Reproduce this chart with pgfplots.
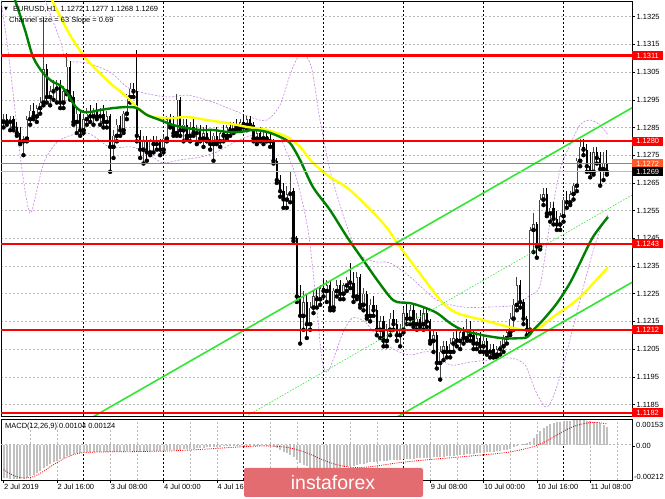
\documentclass[border=0pt]{standalone}
\usepackage{pgfplots}
\pgfplotsset{compat=1.18}
\usepackage{pgfplotstable}
\usepackage{fontspec}
\setmainfont{Liberation Sans}
\newfontfamily\dejavu{DejaVu Sans}
\definecolor{mtgreen}{RGB}{0,128,0}
\definecolor{mtyellow}{RGB}{255,255,0}
\definecolor{mtlime}{RGB}{50,230,50}
\definecolor{mtviolet}{RGB}{200,130,230}
\definecolor{mtred}{RGB}{255,0,0}
\definecolor{mtorange}{RGB}{255,90,40}
\definecolor{mtgrid}{RGB}{185,185,185}
\definecolor{mtsilver}{RGB}{192,192,192}
\definecolor{wmark}{RGB}{226,108,112}
\definecolor{bullgray}{RGB}{70,70,70}

\pgfplotstableread{
i o h l c
0 1.1287 1.1290 1.1285 1.1288
1 1.1288 1.1290 1.1286 1.1287
2 1.1287 1.1289 1.1284 1.1288
3 1.1288 1.1289 1.1284 1.1285
4 1.1285 1.1287 1.1282 1.1283
5 1.1283 1.1285 1.1279 1.1280
6 1.1280 1.1282 1.1275 1.1281
7 1.1281 1.1289 1.1280 1.1288
8 1.1288 1.1293 1.1286 1.1291
9 1.1291 1.1294 1.1288 1.1289
10 1.1289 1.1293 1.1287 1.1292
11 1.1292 1.1296 1.1290 1.1294
12 1.1294 1.1325 1.1293 1.1306
13 1.1306 1.1308 1.1294 1.1296
14 1.1296 1.1300 1.1293 1.1298
15 1.1298 1.1302 1.1295 1.1299
16 1.1299 1.1302 1.1294 1.1300
17 1.1300 1.1302 1.1292 1.1294
18 1.1294 1.1300 1.1292 1.1298
19 1.1298 1.1312 1.1297 1.1307
20 1.1307 1.1309 1.1295 1.1296
21 1.1296 1.1298 1.1286 1.1287
22 1.1287 1.1292 1.1283 1.1290
23 1.1290 1.1291 1.1282 1.1284
24 1.1284 1.1290 1.1283 1.1288
25 1.1288 1.1292 1.1286 1.1290
26 1.1290 1.1293 1.1287 1.1289
27 1.1289 1.1292 1.1286 1.1291
28 1.1291 1.1294 1.1288 1.1289
29 1.1289 1.1292 1.1286 1.1290
30 1.1290 1.1293 1.1285 1.1287
31 1.1287 1.1291 1.1285 1.1289
32 1.1289 1.1290 1.1269 1.1278
33 1.1278 1.1284 1.1274 1.1282
34 1.1282 1.1288 1.1280 1.1286
35 1.1286 1.1289 1.1282 1.1284
36 1.1284 1.1291 1.1283 1.1290
37 1.1290 1.1297 1.1288 1.1296
38 1.1296 1.1301 1.1294 1.1299
39 1.1299 1.1301 1.1296 1.1298
40 1.1298 1.1313 1.1280 1.1282
41 1.1282 1.1284 1.1274 1.1277
42 1.1277 1.1282 1.1272 1.1280
43 1.1280 1.1282 1.1273 1.1276
44 1.1276 1.1281 1.1275 1.1280
45 1.1280 1.1282 1.1276 1.1279
46 1.1279 1.1282 1.1277 1.1280
47 1.1280 1.1281 1.1275 1.1277
48 1.1277 1.1282 1.1276 1.1281
49 1.1281 1.1289 1.1280 1.1288
50 1.1288 1.1290 1.1285 1.1286
51 1.1286 1.1289 1.1282 1.1283
52 1.1283 1.1297 1.1282 1.1295
53 1.1295 1.1296 1.1282 1.1284
54 1.1284 1.1288 1.1280 1.1286
55 1.1286 1.1288 1.1281 1.1282
56 1.1282 1.1287 1.1280 1.1285
57 1.1285 1.1288 1.1282 1.1283
58 1.1283 1.1286 1.1279 1.1284
59 1.1284 1.1286 1.1280 1.1281
60 1.1281 1.1285 1.1278 1.1283
61 1.1283 1.1286 1.1280 1.1281
62 1.1281 1.1284 1.1277 1.1279
63 1.1279 1.1283 1.1273 1.1282
64 1.1282 1.1285 1.1279 1.1280
65 1.1280 1.1284 1.1278 1.1283
66 1.1283 1.1286 1.1280 1.1282
67 1.1282 1.1286 1.1281 1.1285
68 1.1285 1.1287 1.1282 1.1284
69 1.1284 1.1287 1.1283 1.1286
70 1.1286 1.1288 1.1284 1.1285
71 1.1285 1.1288 1.1284 1.1287
72 1.1287 1.1290 1.1285 1.1286
73 1.1286 1.1289 1.1284 1.1288
74 1.1288 1.1289 1.1285 1.1286
75 1.1286 1.1287 1.1280 1.1281
76 1.1281 1.1284 1.1279 1.1283
77 1.1283 1.1285 1.1280 1.1281
78 1.1281 1.1284 1.1279 1.1282
79 1.1282 1.1284 1.1280 1.1281
80 1.1281 1.1283 1.1278 1.1280
81 1.1280 1.1281 1.1272 1.1273
82 1.1273 1.1274 1.1265 1.1266
83 1.1266 1.1268 1.1260 1.1262
84 1.1262 1.1265 1.1256 1.1259
85 1.1259 1.1264 1.1256 1.1261
86 1.1261 1.1269 1.1258 1.1262
87 1.1262 1.1263 1.1244 1.1245
88 1.1245 1.1246 1.1222 1.1224
89 1.1224 1.1228 1.1207 1.1217
90 1.1217 1.1226 1.1212 1.1222
91 1.1222 1.1225 1.1209 1.1214
92 1.1214 1.1222 1.1212 1.1220
93 1.1220 1.1226 1.1218 1.1224
94 1.1224 1.1227 1.1220 1.1223
95 1.1223 1.1228 1.1221 1.1227
96 1.1227 1.1230 1.1224 1.1226
97 1.1226 1.1230 1.1222 1.1228
98 1.1228 1.1230 1.1219 1.1220
99 1.1220 1.1227 1.1219 1.1226
100 1.1226 1.1230 1.1224 1.1228
101 1.1228 1.1230 1.1223 1.1225
102 1.1225 1.1229 1.1223 1.1228
103 1.1228 1.1231 1.1226 1.1230
104 1.1230 1.1236 1.1227 1.1229
105 1.1229 1.1233 1.1222 1.1224
106 1.1224 1.1233 1.1223 1.1231
107 1.1231 1.1232 1.1220 1.1221
108 1.1221 1.1227 1.1219 1.1225
109 1.1225 1.1226 1.1216 1.1217
110 1.1217 1.1223 1.1215 1.1221
111 1.1221 1.1224 1.1217 1.1219
112 1.1219 1.1221 1.1210 1.1212
113 1.1212 1.1217 1.1209 1.1215
114 1.1215 1.1217 1.1206 1.1208
115 1.1208 1.1214 1.1206 1.1212
116 1.1212 1.1218 1.1210 1.1216
117 1.1216 1.1219 1.1212 1.1214
118 1.1214 1.1216 1.1208 1.1210
119 1.1210 1.1214 1.1206 1.1212
120 1.1212 1.1220 1.1211 1.1218
121 1.1218 1.1222 1.1214 1.1216
122 1.1216 1.1221 1.1214 1.1219
123 1.1219 1.1221 1.1213 1.1214
124 1.1214 1.1218 1.1212 1.1216
125 1.1216 1.1219 1.1213 1.1214
126 1.1214 1.1220 1.1212 1.1218
127 1.1218 1.1220 1.1213 1.1215
128 1.1215 1.1216 1.1207 1.1208
129 1.1208 1.1212 1.1204 1.1210
130 1.1210 1.1211 1.1198 1.1200
131 1.1200 1.1206 1.1194 1.1204
132 1.1204 1.1208 1.1201 1.1206
133 1.1206 1.1208 1.1202 1.1204
134 1.1204 1.1209 1.1202 1.1207
135 1.1207 1.1211 1.1204 1.1209
136 1.1209 1.1212 1.1206 1.1208
137 1.1208 1.1212 1.1205 1.1211
138 1.1211 1.1213 1.1207 1.1209
139 1.1209 1.1216 1.1208 1.1212
140 1.1212 1.1215 1.1208 1.1210
141 1.1210 1.1212 1.1205 1.1207
142 1.1207 1.1211 1.1205 1.1209
143 1.1209 1.1211 1.1204 1.1206
144 1.1206 1.1210 1.1204 1.1208
145 1.1208 1.1209 1.1203 1.1204
146 1.1204 1.1207 1.1202 1.1205
147 1.1205 1.1207 1.1202 1.1203
148 1.1203 1.1206 1.1202 1.1205
149 1.1205 1.1208 1.1203 1.1206
150 1.1206 1.1210 1.1204 1.1209
151 1.1209 1.1212 1.1207 1.1211
152 1.1211 1.1218 1.1210 1.1216
153 1.1216 1.1223 1.1212 1.1221
154 1.1221 1.1231 1.1219 1.1228
155 1.1228 1.1230 1.1220 1.1222
156 1.1222 1.1223 1.1214 1.1216
157 1.1216 1.1217 1.1210 1.1212
158 1.1212 1.1249 1.1211 1.1248
159 1.1248 1.1254 1.1240 1.1250
160 1.1250 1.1251 1.1238 1.1242
161 1.1242 1.1261 1.1241 1.1259
162 1.1259 1.1263 1.1257 1.1261
163 1.1261 1.1263 1.1253 1.1254
164 1.1254 1.1258 1.1251 1.1256
165 1.1256 1.1258 1.1250 1.1252
166 1.1252 1.1255 1.1248 1.1250
167 1.1250 1.1254 1.1248 1.1253
168 1.1253 1.1260 1.1251 1.1259
169 1.1259 1.1262 1.1256 1.1258
170 1.1258 1.1262 1.1257 1.1261
171 1.1261 1.1265 1.1259 1.1264
172 1.1264 1.1274 1.1262 1.1273
173 1.1273 1.1281 1.1271 1.1278
174 1.1278 1.1281 1.1275 1.1277
175 1.1277 1.1279 1.1269 1.1271
176 1.1271 1.1276 1.1267 1.1269
177 1.1269 1.1278 1.1268 1.1276
178 1.1276 1.1278 1.1272 1.1274
179 1.1274 1.1276 1.1264 1.1270
180 1.1270 1.1276 1.1266 1.1272
181 1.1272 1.1277 1.1268 1.1269
}\candles

\tikzset{
  mtgridstyle/.style={mtgrid, dash pattern=on 2bp off 2bp, line width=0.5bp},
  daygridstyle/.style={black, dash pattern=on 2bp off 2bp, line width=0.5bp},
  lab/.style={font=\fontsize{7.5}{9}\selectfont},
  pbox/.style={text=white, font=\fontsize{7.5}{9}\selectfont, inner sep=0.8bp, minimum width=31bp, minimum height=9bp, anchor=west},
  level/.style={draw=mtred, solid, line width=2.1bp},
}

\begin{document}
\begin{tikzpicture}[x=1bp,y=1bp]
\useasboundingbox (0,0) rectangle (665,499);
\fill[white] (0,0) rectangle (665,499);

% ---------------- main price panel ----------------
\begin{axis}[
  at={(1bp,83bp)}, anchor=south west,
  width=631bp, height=415bp, scale only axis,
  xmin=-0.75, xmax=188.55, ymin=1.118085, ymax=1.133067,
  clip mode=individual,
  /pgf/number format/assume math mode=true,
  axis line style={black, line width=0.6bp},
  xtick=\empty,
  minor xtick={8,16,32,40,56,64,80,88,104,112,128,136,152,160,176,184},
  xminorgrids, minor grid style={mtgridstyle},
  minor x tick style={draw=none},
  extra x ticks={24,48,72,96,120,144,168},
  extra x tick labels={},
  extra x tick style={xmajorgrids=true, major grid style={daygridstyle}, major tick length=0pt},
  ytick={1.1185,1.1195,1.1205,1.1215,1.1225,1.1235,1.1245,1.1255,1.1265,1.1275,1.1285,1.1295,1.1305,1.1315,1.1325},
  yticklabels={1.1185,1.1195,1.1205,1.1215,1.1225,1.1235,1.1245,1.1255,1.1265,1.1275,1.1285,1.1295,1.1305,1.1315,1.1325},
  ytick pos=right, yticklabel pos=right,
  ymajorgrids, major grid style={mtgridstyle},
  tick align=outside, major tick length=3bp,
  major tick style={black, line width=0.5bp},
  yticklabel style={lab, inner sep=1.5bp},
]
% Bollinger-type envelopes
\addplot[mtviolet, dash pattern=on 2bp off 1.5bp, line width=0.6bp, smooth] coordinates {
(-0.75,1.1331) (1.35,1.1313) (3.45,1.12913) (5.55,1.12697) (7.95,1.12541) (10.35,1.12642) (12.45,1.12733) (16.95,1.12805) (25.05,1.1283) (31.95,1.12779) (38.85,1.12779) (44.85,1.12743) (47.85,1.12722) (52.95,1.12733) (58.95,1.12743) (64.05,1.12762) (68.85,1.12794) (73.05,1.12816) (77.85,1.1283) (82.05,1.1283) (85.05,1.12758) (88.05,1.1266) (91.35,1.1248) (93.75,1.12227) (95.55,1.1201) (97.05,1.11967) (98.85,1.1201) (101.55,1.121) (104.55,1.12162) (108.45,1.12148) (112.95,1.12083) (117.45,1.12047) (121.95,1.12029) (127.95,1.1204) (133.95,1.11993) (139.95,1.12003) (145.95,1.12011) (151.95,1.12018) (156.45,1.11993) (159.45,1.11903) (162.45,1.11842) (164.55,1.11867) (167.55,1.11975) (171.45,1.12155) (175.95,1.12365) (178.95,1.1248) (181.35,1.12534)};
\addplot[mtviolet, dash pattern=on 2bp off 1.5bp, line width=0.6bp, smooth] coordinates {
(12.45,1.1331) (16.95,1.13166) (19.05,1.13094) (25.05,1.13083) (31.95,1.1305) (37.05,1.12996) (40.95,1.12978) (49.05,1.1296) (55.05,1.12967) (61.05,1.12949) (68.85,1.12913) (74.85,1.12884) (79.05,1.12877) (82.95,1.12931) (85.95,1.1304) (88.35,1.13105) (90.45,1.13112) (92.55,1.13058) (94.95,1.12877) (97.95,1.12697) (100.95,1.1257) (103.95,1.12462) (106.95,1.1239) (111.45,1.12365) (115.95,1.12361) (121.95,1.12311) (130.05,1.12227) (137.85,1.12202) (145.95,1.12202) (153.45,1.12209) (157.95,1.12245) (160.95,1.12281) (163.95,1.12505) (166.95,1.12697) (169.95,1.12787) (172.95,1.12859) (175.95,1.12877) (178.95,1.12859) (181.35,1.12823)};

% bearish candles
\addplot[only marks, mark=none,
  restrict expr to domain={\thisrow{c}-\thisrow{o}}{-1:-0.00001},
  error bars/.cd, y dir=plus, y explicit, error mark=none,
  error bar style={black, line width=0.7bp}]
  table[x=i, y=l, y error expr=\thisrow{h}-\thisrow{l}] {\candles};
\addplot[only marks, mark=none,
  restrict expr to domain={\thisrow{c}-\thisrow{o}}{-1:-0.00001},
  error bars/.cd, y dir=plus, y explicit, error mark=none,
  error bar style={black, line width=2.4bp}]
  table[x=i, y=c, y error expr=\thisrow{o}-\thisrow{c}] {\candles};
% bullish candles
\addplot[only marks, mark=none,
  restrict expr to domain={\thisrow{c}-\thisrow{o}}{0:1},
  error bars/.cd, y dir=plus, y explicit, error mark=none,
  error bar style={bullgray, line width=0.7bp}]
  table[x=i, y=l, y error expr=\thisrow{h}-\thisrow{l}] {\candles};
\addplot[only marks, mark=none,
  restrict expr to domain={\thisrow{c}-\thisrow{o}}{0:1},
  error bars/.cd, y dir=plus, y explicit, error mark=none,
  error bar style={bullgray, line width=2.4bp}]
  table[x=i, y=o, y error expr=\thisrow{c}-\thisrow{o}] {\candles};
\addplot[only marks, mark=none,
  restrict expr to domain={\thisrow{c}-\thisrow{o}}{0.00015:1},
  error bars/.cd, y dir=plus, y explicit, error mark=none,
  error bar style={white, line width=1.1bp, shorten <=0.55bp, shorten >=0.55bp}]
  table[x=i, y=o, y error expr=\thisrow{c}-\thisrow{o}] {\candles};

% moving averages
\addplot[mtyellow, line width=2.4bp, smooth] coordinates {
(14.55,1.1331) (19.95,1.13184) (25.05,1.13094) (31.95,1.13011) (37.05,1.1296) (40.95,1.12913) (44.85,1.12888) (50.85,1.12884) (55.05,1.12888) (61.05,1.12877) (67.05,1.12866) (73.05,1.12852) (79.05,1.12841) (85.05,1.12816) (88.95,1.1278) (92.85,1.12722) (97.95,1.12671) (103.95,1.12624) (113.85,1.12505) (118.95,1.12419) (127.05,1.12289) (131.85,1.12216) (136.05,1.1218) (143.85,1.12155) (151.95,1.12129) (157.05,1.12118) (160.95,1.12129) (164.85,1.12166) (170.85,1.12216) (175.05,1.12263) (181.35,1.12346)};
\addplot[mtgreen, line width=2.4bp, smooth] coordinates {
(3.45,1.1331) (6.45,1.13202) (8.85,1.13105) (11.85,1.13047) (14.85,1.13014) (16.95,1.13003) (19.05,1.12975) (20.85,1.12938) (22.05,1.1292) (23.85,1.12906) (25.95,1.12906) (28.95,1.12913) (32.85,1.1292) (37.05,1.12924) (40.05,1.1292) (43.05,1.12895) (46.95,1.12877) (50.85,1.12859) (55.05,1.12848) (59.0,1.12841) (62.9,1.12841) (67.05,1.12834) (71.0,1.12834) (74.9,1.12841) (79.05,1.12834) (82.95,1.12816) (85.95,1.12794) (88.95,1.12733) (92.85,1.12635) (97.95,1.12552) (103.05,1.12455) (107.85,1.12372) (112.05,1.123) (115.95,1.12238) (118.05,1.1222) (121.95,1.12216) (125.85,1.12202) (130.05,1.1218) (133.95,1.12144) (137.85,1.12118) (143.85,1.121) (149.85,1.12089) (154.05,1.12089) (157.05,1.12093) (158.85,1.12118) (161.85,1.12155) (166.05,1.12216) (169.95,1.12289) (172.95,1.12361) (176.85,1.12455) (181.35,1.12527)};

% regression channel
\addplot[mtlime, line width=1.6bp] coordinates {(-0.75,1.11615) (188.55,1.12921)};
\addplot[mtlime, line width=1.6bp] coordinates {(-0.75,1.10985) (188.55,1.12291)};
\addplot[mtlime, line width=0.6bp, dash pattern=on 1.5bp off 1.5bp] coordinates {(-0.75,1.11300) (188.55,1.12606)};

% horizontal levels
\addplot[draw=mtsilver, solid, line width=0.7bp] coordinates {(-0.75,1.1269) (188.55,1.1269)};
\addplot[draw=mtorange, solid, line width=0.7bp] coordinates {(-0.75,1.1272) (188.55,1.1272)};
\addplot[level] coordinates {(-0.75,1.1280) (188.55,1.1280)};
\addplot[level] coordinates {(-0.75,1.1243) (188.55,1.1243)};
\addplot[level] coordinates {(-0.75,1.1212) (188.55,1.1212)};
\addplot[level] coordinates {(-0.75,1.1182) (188.55,1.1182)};
\addplot[level] coordinates {(-0.75,1.1311) (188.55,1.1311)};

% price boxes on the right scale
\node[pbox, fill=mtred] at (axis cs:188.55,1.1311) {1.1311};
\node[pbox, fill=mtred] at (axis cs:188.55,1.1280) {1.1280};
\node[pbox, fill=mtred] at (axis cs:188.55,1.1243) {1.1243};
\node[pbox, fill=mtred] at (axis cs:188.55,1.1212) {1.1212};
\node[pbox, fill=mtred] at (axis cs:188.55,1.1182) {1.1182};
\node[pbox, fill=mtorange] at (axis cs:188.55,1.1272) {1.1272};
\node[pbox, fill=black] at (axis cs:188.55,1.1269) {1.1269};
\end{axis}

% ---------------- MACD panel ----------------
\begin{axis}[
  at={(1bp,19bp)}, anchor=south west,
  width=631bp, height=61bp, scale only axis,
  xmin=-0.75, xmax=188.55, ymin=-212, ymax=153,
  clip mode=individual,
  axis line style={black, line width=0.6bp},
  xtick={0,16,32,48,64,128,144,160,176},
  xticklabels={2 Jul 2019,2 Jul 16:00,3 Jul 08:00,4 Jul 00:00,4 Jul 16:00,9 Jul 08:00,10 Jul 00:00,10 Jul 16:00,11 Jul 08:00},
  xtick pos=left, tick align=outside, major tick length=3bp,
  major tick style={black, line width=0.5bp},
  xticklabel style={lab, anchor=north west, inner sep=1bp, xshift=-0.5bp},
  minor xtick={8,16,32,40,56,64,80,88,104,112,128,136,152,160,176,184},
  xminorgrids, minor grid style={mtgridstyle},
  minor x tick style={draw=none},
  extra x ticks={24,48,72,96,120,144,168},
  extra x tick labels={},
  extra x tick style={xmajorgrids=true, major grid style={daygridstyle}, major tick length=0pt},
  ytick=\empty,
]
\addplot[mtgridstyle] coordinates {(-0.75,0) (188.55,0)};
\addplot[ycomb, mtsilver, line width=2bp, mark=none] coordinates {
(0,-200) (1,-203) (2,-205) (3,-206) (4,-207) (5,-206) (6,-205) (7,-198) (8,-190) (9,-180) (10,-168) (11,-158) (12,-140) (13,-128) (14,-118) (15,-106) (16,-96) (17,-88) (18,-78) (19,-70) (20,-62) (21,-56) (22,-50) (23,-48) (24,-46) (25,-45) (26,-44) (27,-44) (28,-43) (29,-43) (30,-42) (31,-42) (32,-44) (33,-45) (34,-44) (35,-43) (36,-42) (37,-40) (38,-38) (39,-40) (40,-42) (41,-43) (42,-42) (43,-41) (44,-40) (45,-39) (46,-38) (47,-37) (48,-36) (49,-35) (50,-34) (51,-33) (52,-31) (53,-30) (54,-29) (55,-27) (56,-25) (57,-24) (58,-22) (59,-20) (60,-18) (61,-17) (62,-15) (63,-14) (64,-13) (65,-12) (66,-11) (67,-10) (68,-9) (69,-8) (70,-7) (71,-7) (72,-6) (73,-5) (74,-5) (75,-4) (76,-4) (77,-5) (78,-6) (79,-8) (80,-10) (81,-14) (82,-22) (83,-32) (84,-42) (85,-52) (86,-62) (87,-75) (88,-92) (89,-108) (90,-120) (91,-130) (92,-138) (93,-143) (94,-146) (95,-148) (96,-148) (97,-147) (98,-145) (99,-144) (100,-142) (101,-140) (102,-137) (103,-134) (104,-130) (105,-126) (106,-122) (107,-118) (108,-114) (109,-110) (110,-107) (111,-105) (112,-103) (113,-101) (114,-99) (115,-97) (116,-95) (117,-93) (118,-91) (119,-90) (120,-89) (121,-88) (122,-86) (123,-85) (124,-83) (125,-82) (126,-80) (127,-79) (128,-78) (129,-77) (130,-76) (131,-74) (132,-72) (133,-70) (134,-68) (135,-66) (136,-64) (137,-62) (138,-60) (139,-58) (140,-56) (141,-54) (142,-52) (143,-50) (144,-48) (145,-46) (146,-44) (147,-42) (148,-40) (149,-38) (150,-35) (151,-30) (152,-24) (153,-16) (154,-8) (155,0) (156,5) (157,10) (158,18) (159,40) (160,62) (161,82) (162,98) (163,112) (164,122) (165,130) (166,135) (167,138) (168,140) (169,142) (170,143) (171,144) (172,145) (173,145) (174,144) (175,143) (176,141) (177,138) (178,135) (179,130) (180,118) (181,104)};
\addplot[mtred, line width=0.8bp, dash pattern=on 1bp off 1.2bp, smooth] coordinates {
(0,-150) (3,-185) (6,-200) (9,-192) (12,-160) (15,-120) (18,-85) (21,-60) (24,-48) (30,-44) (40,-42) (50,-38) (60,-28) (70,-15) (78,-8) (83,-12) (87,-25) (91,-50) (95,-85) (99,-115) (103,-133) (107,-138) (112,-128) (118,-110) (124,-97) (130,-86) (136,-76) (142,-65) (148,-54) (152,-44) (156,-28) (159,-12) (162,12) (165,45) (168,80) (171,108) (174,125) (177,133) (179,130) (181,124)};
\end{axis}

% right scale of MACD panel
\draw[black, line width=0.5bp] (632,53) -- (635,53);
\node[lab, anchor=west, inner sep=1bp] at (635,74) {0.00153};
\node[lab, anchor=west, inner sep=1bp] at (635,53) {0.00};
\node[lab, anchor=west, inner sep=1bp] at (633,22) {-0.00212};

% panel captions
\node[lab, anchor=west, inner sep=0pt] at (5,72) {MACD(12,26,9) 0.00104 0.00124};
\node[anchor=west, inner sep=0pt, font=\dejavu\fontsize{5}{6}\selectfont] at (4,490) {▼};
\node[lab, anchor=west, inner sep=0pt] at (13,490) {EURUSD,H1\ \ 1.1272 1.1277 1.1268 1.1269};
\node[lab, anchor=west, inner sep=0pt] at (9,478) {Channel size = 63 Slope = 0.69};

% watermark
\fill[wmark, rounded corners=2bp] (244,2) rectangle (423,31);
\node[white, font=\fontsize{19.5}{21}\selectfont, inner sep=0pt] at (333,16.5) {instaforex};
\end{tikzpicture}
\end{document}
